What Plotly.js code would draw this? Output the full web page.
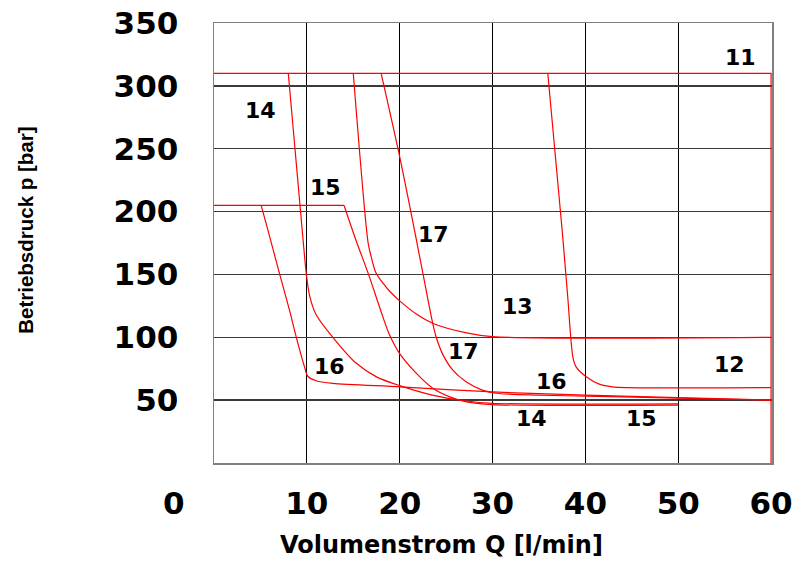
<!DOCTYPE html>
<html>
<head>
<meta charset="utf-8">
<script src="https://cdn.plot.ly/plotly-3.0.1.min.js"></script>
<style>html,body{margin:0;padding:0;background:#fff;}#chart{width:798px;height:563px;}</style>
</head>
<body>
<div id="chart"></div>
<script>
// ---- data ----
const xTickVals = [10, 20, 30, 40, 50, 60];
const xTickText = ["10", "20", "30", "40", "50", "60"];
const yTickVals = [50, 100, 150, 200, 250, 300, 350];
const yTickText = ["50", "100", "150", "200", "250", "300", "350"];

// curve 11: max pressure 310 bar up to 60 l/min
const q11 = [0, 60, 60];
const p11 = [310, 310, 0];
// 205 bar limit line
const q205 = [0, 14];
const p205 = [205, 205];
// curve 12
const q12 = [35.95, 37.5, 38.1, 38.65, 39.0, 40.1, 41.5, 42.9, 44.5, 60];
const p12 = [310, 185, 132, 84.5, 76.5, 68.6, 62.7, 60.6, 60, 60];
// curve 13
const q13 = [15.0, 16.6, 16.9, 17.4, 18.2, 19.0, 20.0, 21.8, 23.6, 27.2, 30.0, 60];
const p13 = [310, 175, 165, 152, 143, 136, 129, 118.5, 111, 103.5, 100.5, 100];
// curve 14
const q14 = [8.0, 9.6, 9.95, 10.3, 11.0, 12.8, 15.3, 17.5, 20.0, 23.5, 27.2, 30.0, 50];
const p14 = [310, 177, 150, 133, 118, 100, 79.5, 68.5, 61.5, 54, 49.3, 47.5, 47];
// curve 15
const q15 = [14.0, 15.3, 16.6, 18.2, 18.9, 20.0, 21.8, 23.6, 25.4, 27.2, 30.0, 50];
const p15 = [205, 177, 151, 116, 102, 87, 71.3, 59.3, 52.6, 48.6, 46.5, 46];
// curve 16
const q16 = [5.08, 5.8, 7.05, 8.13, 8.85, 9.75, 10.1, 11.0, 12.8, 20.0, 30.0, 40.0, 50.0, 60];
const p16 = [205, 185.4, 150.8, 121.6, 100.4, 76.5, 69, 65.4, 63.3, 60.6, 56.5, 54, 52, 50];
// curve 17
const q17 = [18.0, 20.0, 21.8, 22.5, 23.56, 23.92, 24.6, 25.7, 27.15, 28.9, 30.7, 35.0, 40.0, 50.0, 60];
const p17 = [310, 243.7, 177.4, 150.8, 111, 100.4, 87, 74, 64.6, 58, 55.3, 54, 53.2, 51.6, 50];

// curve labels
const labelText = ["11", "12", "13", "14", "14", "15", "15", "16", "16", "17", "17"];
const labelQ = [56.7, 55.5, 32.65, 5.0, 34.15, 12.0, 46.0, 12.44, 36.4, 23.6, 26.9];
const labelP = [322.3, 78.3, 124.8, 280.5, 35.7, 218.8, 35.7, 76.8, 65.1, 181.4, 89];

// ---- drawing ----
const RED = "#ff0000";
const FONT = "DejaVu Sans";
function curve(q, p, shape) {
  return {
    type: "scatter", mode: "lines", x: q, y: p, hoverinfo: "skip", showlegend: false,
    line: { color: RED, width: 1.2, shape: shape || "spline", smoothing: 0.8 }
  };
}
const traces = [
  curve(q11, p11, "linear"),
  curve(q205, p205, "linear"),
  curve(q12, p12), curve(q13, p13), curve(q14, p14),
  curve(q15, p15), curve(q16, p16), curve(q17, p17)
];

const annotations = labelText.map((t, i) => ({
  text: t, x: labelQ[i], y: labelP[i], xref: "x", yref: "y",
  showarrow: false, xanchor: "center", yanchor: "middle",
  font: { family: FONT, size: 22, color: "#000", weight: "bold" }
}));
annotations.push({
  text: "0", x: -0.0717, y: -0.09, xref: "paper", yref: "paper",
  showarrow: false, xanchor: "center", yanchor: "middle",
  font: { family: FONT, size: 31, color: "#000", weight: "bold" }
});
annotations.push({
  text: "Volumenstrom Q [l/min]", x: 0.408, y: -0.186, xref: "paper", yref: "paper",
  showarrow: false, xanchor: "center", yanchor: "middle", borderpad: 0,
  font: { family: FONT, size: 24, color: "#000", weight: "bold" }
});
annotations.push({
  text: "Betriebsdruck p [bar]", x: -0.337, y: 0.53, xref: "paper", yref: "paper",
  showarrow: false, xanchor: "center", yanchor: "middle", textangle: -90,
  font: { family: "Liberation Sans", size: 20.5, color: "#000", weight: "bold" }
});

const layout = {
  width: 798, height: 563,
  margin: { l: 214, r: 26, t: 23, b: 100, pad: 0 },
  paper_bgcolor: "#fff", plot_bgcolor: "#fff",
  showlegend: false,
  xaxis: {
    range: [0, 60.1], tickmode: "array", tickvals: xTickVals, ticktext: xTickText,
    showgrid: true, gridcolor: "#000", gridwidth: 1, zeroline: false,
    showline: true, mirror: true, linecolor: "#808080", linewidth: 1.5,
    ticks: "outside", ticklen: 12, tickcolor: "rgba(0,0,0,0)",
    tickfont: { family: FONT, size: 31, color: "#000", weight: "bold" },
    layer: "below traces", fixedrange: true
  },
  yaxis: {
    range: [0, 350], tickmode: "array", tickvals: yTickVals, ticktext: yTickText,
    showgrid: true, gridcolor: "#3a3a3a", gridwidth: 1.3, zeroline: false,
    showline: true, mirror: true, linecolor: "#808080", linewidth: 1.5,
    ticks: "outside", ticklen: 28, tickcolor: "rgba(0,0,0,0)",
    tickfont: { family: FONT, size: 31, color: "#000", weight: "bold" },
    layer: "below traces", fixedrange: true
  },
  annotations: annotations
};

Plotly.newPlot("chart", traces, layout, { displayModeBar: false, staticPlot: true });
</script>
</body>
</html>
